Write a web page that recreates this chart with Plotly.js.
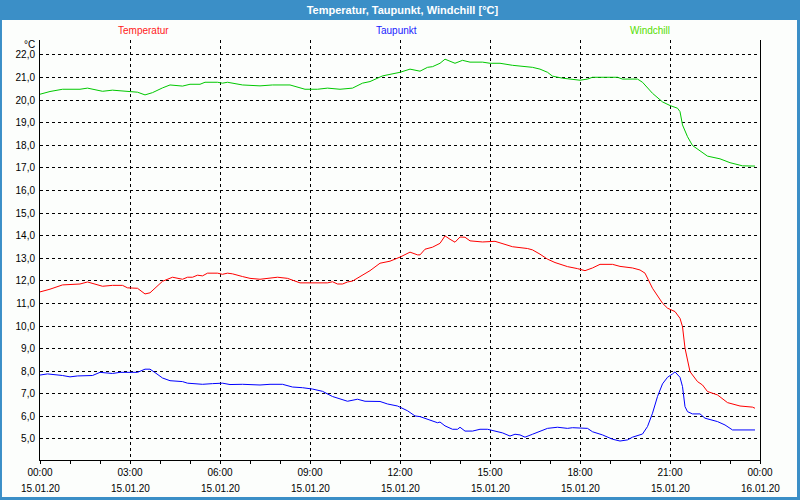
<!DOCTYPE html>
<html>
<head>
<meta charset="utf-8">
<script src="https://cdn.plot.ly/plotly-3.0.1.min.js"></script>
<style>
html,body{margin:0;padding:0;background:#3b8fc7;}
#chart{width:800px;height:500px;}
</style>
</head>
<body>
<div id="chart"></div>
<script>
// ---- data ----
const day = '2020-01-15';

const tempTime = ['00:00','00:20','00:45','01:20','01:35','02:05','02:25','02:45','02:55','03:15','03:30','03:40','04:05','04:25','04:45','04:55','05:05','05:15','05:25','05:35','05:55','06:05','06:15','06:25','06:45','07:00','07:20','07:40','07:55','08:15','08:25','08:40','09:00','09:35','09:45','09:55','10:05','10:15','10:25','10:45','11:00','11:20','11:40','12:00','12:20','12:35','12:40','12:50','13:05','13:20','13:30','13:40','13:50','14:00','14:10','14:20','14:45','15:10','15:25','15:45','16:15','16:25','16:40','16:55','17:10','17:35','17:55','18:00','18:10','18:25','18:40','19:05','19:20','19:45','20:00','20:10','20:25','20:45','20:55','21:10','21:20','21:25','21:30','21:40','21:55','22:05','22:15','22:35','22:55','23:20','23:45','23:50'];
const tempVal = [11.51,11.63,11.82,11.86,11.95,11.76,11.80,11.80,11.69,11.67,11.42,11.47,11.98,12.16,12.07,12.16,12.16,12.25,12.22,12.34,12.34,12.29,12.34,12.31,12.19,12.11,12.07,12.11,12.16,12.11,12.03,11.91,11.91,11.91,11.96,11.86,11.86,11.95,11.99,12.26,12.45,12.78,12.87,13.05,13.27,13.15,13.15,13.40,13.49,13.66,13.99,13.84,13.71,13.94,13.93,13.77,13.72,13.75,13.66,13.51,13.43,13.37,13.18,12.96,12.81,12.63,12.54,12.52,12.45,12.57,12.73,12.73,12.64,12.57,12.48,12.34,11.67,11.01,10.79,10.64,10.34,9.97,9.02,7.98,7.54,7.39,7.10,6.95,6.61,6.46,6.41,6.36];

const dewTime = ['00:00','00:15','00:45','01:00','01:15','01:45','02:00','02:25','02:40','03:15','03:30','03:40','03:50','04:05','04:20','04:45','04:55','05:25','05:45','06:05','06:20','06:45','07:20','07:40','08:05','08:25','08:45','09:05','09:25','09:45','10:15','10:35','10:50','11:20','11:35','11:55','12:15','12:30','12:40','12:55','13:15','13:20','13:30','13:45','13:55','14:00','14:10','14:25','14:40','14:55','15:15','15:25','15:40','15:50','16:00','16:10','16:25','16:40','16:55','17:15','17:35','17:45','18:15','18:25','18:45','19:05','19:20','19:35','19:45','20:05','20:15','20:25','20:35','20:45','20:55','21:05','21:10','21:20','21:25','21:30','21:35','21:45','22:00','22:10','22:25','22:35','22:50','23:05','23:50'];
const dewVal = [7.83,7.88,7.81,7.75,7.79,7.81,7.95,7.90,7.95,7.95,8.09,8.09,7.94,7.70,7.58,7.54,7.47,7.42,7.45,7.47,7.41,7.42,7.39,7.42,7.42,7.30,7.27,7.21,7.11,6.88,6.67,6.76,6.67,6.66,6.55,6.46,6.25,6.02,5.99,5.87,5.72,5.75,5.58,5.43,5.43,5.52,5.35,5.35,5.43,5.43,5.31,5.27,5.13,5.21,5.18,5.08,5.21,5.35,5.47,5.52,5.47,5.50,5.47,5.32,5.18,4.99,4.91,4.96,5.08,5.22,5.55,6.14,6.88,7.44,7.73,7.88,7.97,7.73,7.32,6.43,6.21,6.11,6.11,5.92,5.81,5.77,5.62,5.40,5.40];

const chillTime = ['00:00','00:20','00:45','01:20','01:35','02:05','02:25','03:00','03:15','03:30','03:45','04:05','04:20','04:45','05:00','05:20','05:30','05:55','06:05','06:15','06:45','07:20','07:45','08:20','08:35','08:50','09:15','09:35','10:00','10:25','10:45','11:00','11:25','11:45','12:00','12:20','12:40','12:55','13:05','13:20','13:30','13:50','14:05','14:20','14:45','15:00','15:20','15:45','16:15','16:25','16:40','16:55','17:05','17:25','18:00','18:15','18:25','19:15','19:25','19:55','20:05','20:25','20:45','21:00','21:15','21:20','21:25','21:35','21:45','22:00','22:15','22:40','23:00','23:25','23:50'];
const chillVal = [20.26,20.38,20.48,20.48,20.53,20.39,20.44,20.39,20.35,20.23,20.33,20.54,20.67,20.62,20.70,20.70,20.79,20.79,20.75,20.79,20.67,20.63,20.67,20.67,20.57,20.48,20.48,20.53,20.48,20.53,20.75,20.82,21.07,21.16,21.23,21.37,21.28,21.45,21.48,21.63,21.81,21.63,21.76,21.68,21.68,21.63,21.63,21.54,21.45,21.45,21.37,21.23,21.06,20.97,20.88,20.93,21.01,21.01,20.93,20.93,20.79,20.30,19.92,19.76,19.64,19.49,18.90,18.38,17.99,17.75,17.52,17.40,17.23,17.09,17.08];

const tickVals  = ['2020-01-15 00:00','2020-01-15 03:00','2020-01-15 06:00','2020-01-15 09:00','2020-01-15 12:00','2020-01-15 15:00','2020-01-15 18:00','2020-01-15 21:00','2020-01-16 00:00'];
const tickTimes = ['00:00','03:00','06:00','09:00','12:00','15:00','18:00','21:00','00:00'];
const tickDates = ['15.01.20','15.01.20','15.01.20','15.01.20','15.01.20','15.01.20','15.01.20','15.01.20','16.01.20'];

const seriesNames = ['Temperatur','Taupunkt','Windchill'];
const lineColors  = ['#ff0000','#0000ff','#00c800'];
const labelColors = ['#ff1a1a','#1a1aff','#55dd00'];

const yRange = [4.07, 22.66];
const xRange = ['2020-01-15 00:00','2020-01-16 00:00'];

// ---- build ----
const toDT = arr => arr.map(t => day + ' ' + t);
const traces = [
  {x: toDT(tempTime), y: tempVal},
  {x: toDT(dewTime), y: dewVal},
  {x: toDT(chillTime), y: chillVal}
].map((d, i) => ({
  type: 'scatter', mode: 'lines', x: d.x, y: d.y, name: seriesNames[i],
  line: {color: lineColors[i], width: 1}, hoverinfo: 'skip'
}));

const font = {family: 'Liberation Sans, Arial, sans-serif', size: 10, color: '#000'};

const annotations = [];
const legendX = [0.1444, 0.4958, 0.847];
seriesNames.forEach((n, i) => annotations.push({
  text: n, xref: 'paper', yref: 'paper', x: legendX[i], y: 1.0238,
  xanchor: 'center', yanchor: 'middle', showarrow: false,
  font: {family: font.family, size: 10, color: labelColors[i]}
}));
tickVals.forEach((v, i) => annotations.push({
  text: tickDates[i], xref: 'x', yref: 'paper', x: v, y: -0.0667,
  xanchor: 'center', yanchor: 'middle', showarrow: false, font: font
}));
annotations.push({
  text: '°C', xref: 'paper', yref: 'paper', x: -0.004, y: 0.99,
  xanchor: 'right', yanchor: 'middle', showarrow: false, font: font
});

const layout = {
  width: 800, height: 500,
  margin: {l: 40, r: 40, t: 40, b: 40, pad: 0},
  paper_bgcolor: '#3b8fc7',
  plot_bgcolor: 'rgba(0,0,0,0)',
  showlegend: false,
  title: {
    text: 'Temperatur, Taupunkt, Windchill [°C]',
    x: 0.503, xref: 'container', xanchor: 'center',
    y: 0.98, yref: 'container', yanchor: 'middle',
    font: {family: 'Liberation Sans, Arial, sans-serif', size: 11, color: '#ffffff', weight: 'bold'}
  },
  shapes: [{
    type: 'rect', xref: 'paper', yref: 'paper', layer: 'below',
    x0: -0.0528, x1: 1.0514, y0: -0.0881, y1: 1.0476,
    fillcolor: '#fcfefc', line: {width: 0}
  }],
  xaxis: {
    type: 'date', range: xRange,
    tickmode: 'array', tickvals: tickVals, ticktext: tickTimes,
    ticks: 'outside', ticklen: 3, tickcolor: '#000', tickwidth: 1,
    minor: {dtick: 3600000, tick0: '2020-01-15 00:00', ticks: 'outside', ticklen: 3, tickcolor: '#000', showgrid: false},
    showgrid: true, gridcolor: '#000', gridwidth: 1, griddash: '3px,3px',
    showline: true, linecolor: '#000', linewidth: 1, mirror: false,
    zeroline: false, tickfont: font, fixedrange: true
  },
  yaxis: {
    range: yRange, tickmode: 'linear', tick0: 5, dtick: 1,
    tickformat: '.1f', ticks: '', ticklabelstandoff: 2,
    showgrid: true, gridcolor: '#000', gridwidth: 1, griddash: '3px,3px',
    showline: true, linecolor: '#000', linewidth: 1, mirror: true,
    zeroline: false, tickfont: font, fixedrange: true
  },
  separators: ',.',
  annotations: annotations
};

Plotly.newPlot('chart', traces, layout, {displayModeBar: false, staticPlot: true});
</script>
</body>
</html>
